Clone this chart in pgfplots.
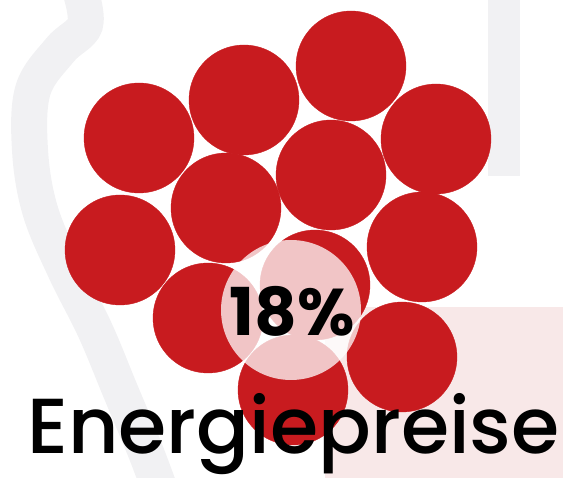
\documentclass[border=0pt]{standalone}
\usepackage{pgfplots}
\pgfplotsset{compat=1.18}
\usepackage{fontspec}
\newfontfamily\pop{Poppins}
\newfontfamily\popm{Poppins Medium}
\definecolor{berry}{RGB}{200,27,31}
\definecolor{swoosh}{RGB}{241,241,243}
\definecolor{blush}{RGB}{248,232,232}

\begin{document}
\begin{tikzpicture}
\begin{axis}[
  scale only axis, width=563pt, height=478pt,
  xmin=0, xmax=563, ymin=0, ymax=478, y dir=reverse,
  hide axis, clip=true,
]
% background shapes
\addplot[draw=none, fill=blush] coordinates {(325,307) (563,307) (563,478) (325,478)} -- cycle;
\addplot[draw=none, fill=swoosh] coordinates {(488,0) (520,0) (520,176) (488,176)} -- cycle;
\addplot[swoosh, line width=36pt, smooth, tension=0.6] coordinates {
  (80,-10) (85,25) (60,50) (33,90) (30,150) (40,210) (65,270) (95,330) (120,390) (145,450) (160,490)};

% red circles
\addplot[only marks, mark=*, mark size=55pt, color=berry] coordinates {
  (351,66) (244,100) (139,138) (436,139) (331,175)
  (226,208) (120,250) (422,247) (208,318) (402,357)
  (315,285) (293,390)};

% translucent highlight
\addplot[only marks, mark=*, mark size=70pt, color=white,
  mark options={fill opacity=0.75, draw opacity=0}] coordinates {(291,310)};

\coordinate (pct) at (axis cs:292,311);
\coordinate (lbl) at (axis cs:27,454);
\end{axis}
\node[anchor=center, inner sep=0pt] at (pct)
  {\pop\bfseries\fontsize{66}{66}\selectfont 18\%};
\node[anchor=base west, inner sep=0pt] at (lbl)
  {\popm\fontsize{78}{78}\selectfont Energiepreise};
\pgfresetboundingbox
\path (current axis.south west) rectangle (current axis.north east);
\end{tikzpicture}
\end{document}
